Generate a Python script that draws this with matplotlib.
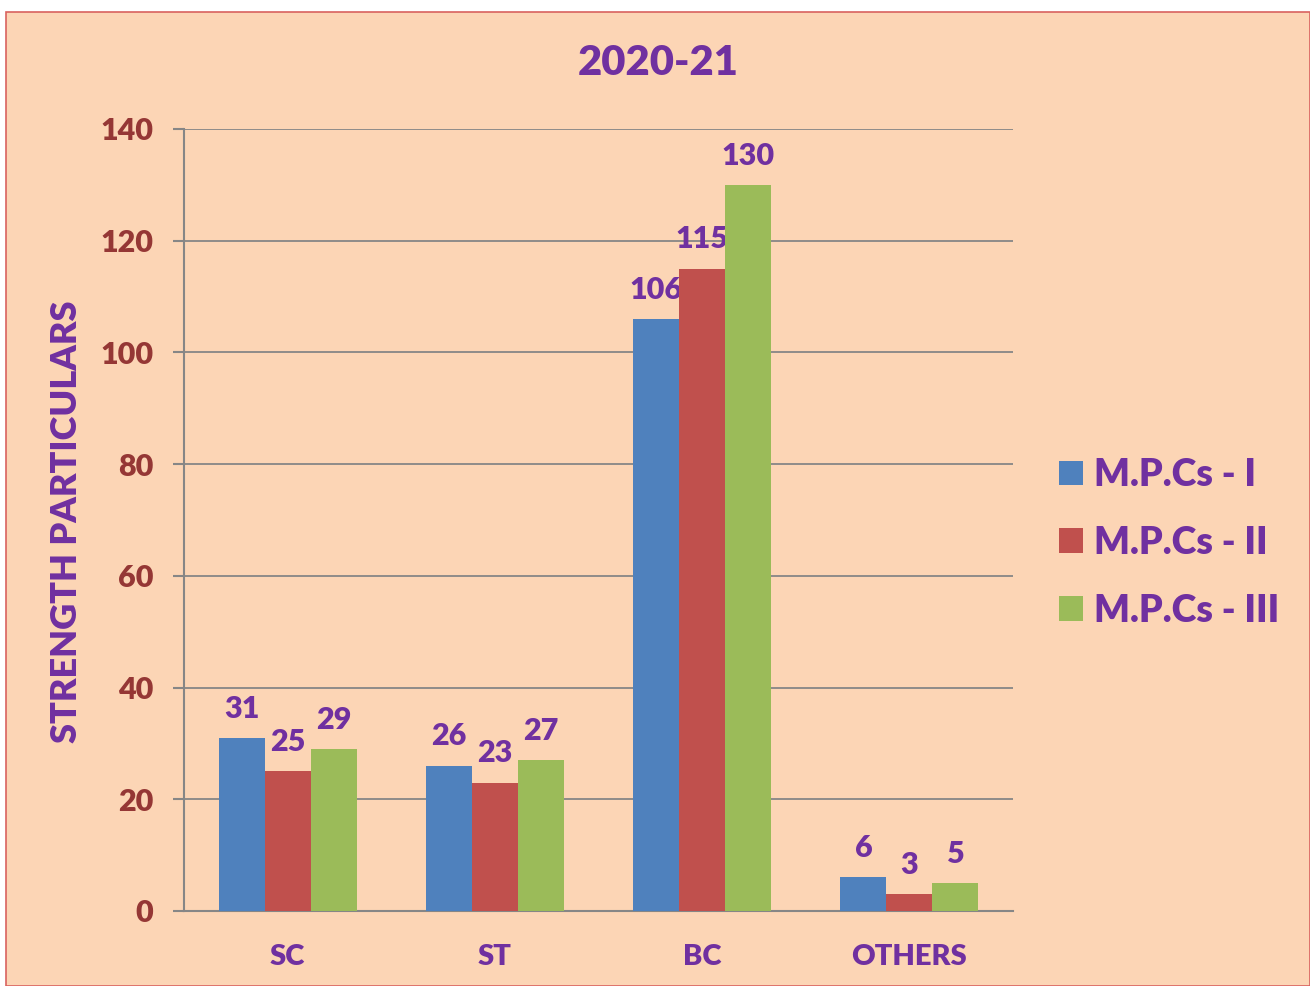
import numpy as np
import matplotlib
matplotlib.use('Agg')
import matplotlib.pyplot as plt
from matplotlib.patches import Rectangle

plt.rcParams['font.family'] = ['Lato', 'DejaVu Sans']
plt.rcParams['font.weight'] = 'bold'

# Data
categories = ['SC', 'ST', 'BC', 'OTHERS']
series_names = ['M.P.Cs - I', 'M.P.Cs - II', 'M.P.Cs - III']
mpcs_1 = [31, 26, 106, 6]
mpcs_2 = [25, 23, 115, 3]
mpcs_3 = [29, 27, 130, 5]
y_ticks = [0, 20, 40, 60, 80, 100, 120, 140]

colors = ['#4F81BD', '#C0504D', '#9BBB59']
purple = '#7030A0'
brown = '#953735'
grey = '#868686'
bg = '#FCD5B5'

W, H = 1310, 986
fig = plt.figure(figsize=(W / 100, H / 100), dpi=100, facecolor='white')
fig.patches.append(Rectangle((6 / W, 0), 1 - 6 / W, (H - 12) / H, transform=fig.transFigure,
                             facecolor=bg, edgecolor='#D9625F', linewidth=1.2, zorder=-1))

ax = fig.add_axes([184 / W, 1 - 911 / H, (1013 - 184) / W, (911 - 129) / H])
ax.set_facecolor(bg)

x = np.arange(len(categories))
width = 46 / 207.25
for i, (vals, name) in enumerate(zip([mpcs_1, mpcs_2, mpcs_3], series_names)):
    bars = ax.bar(x + (i - 1) * width, vals, width, color=colors[i], label=name, zorder=3)
    for b, v in zip(bars, vals):
        ax.annotate(str(v), (b.get_x() + b.get_width() / 2, v), xytext=(0, 11),
                    textcoords='offset points', ha='center', va='bottom',
                    color=purple, fontsize=22, fontweight='heavy')

ax.set_xlim(-0.5, len(categories) - 0.5)
ax.set_ylim(0, 140)
ax.set_yticks(y_ticks)
ax.set_xticks(x)
ax.set_xticklabels(categories, fontweight='heavy')
ax.set_yticklabels([str(t) for t in y_ticks], fontweight='heavy')
ax.tick_params(axis='y', colors=grey, length=8, width=1.5, labelcolor=brown, labelsize=22, pad=14)
ax.tick_params(axis='x', length=0, labelcolor=purple, labelsize=21, pad=24)
ax.yaxis.grid(True, color=grey, linewidth=1.3, zorder=0)
for s in ['top', 'right']:
    ax.spines[s].set_visible(False)
for s in ['left', 'bottom']:
    ax.spines[s].set_color(grey)
    ax.spines[s].set_linewidth(1.5)

fig.text(658 / W, 1 - 63 / H, '2020-21', ha='center', va='center',
         color=purple, fontsize=30, fontweight='heavy')
fig.text(67 / W, 1 - 522 / H, 'STRENGTH PARTICULARS', ha='center', va='center',
         rotation=90, color=purple, fontsize=26, fontweight='heavy')

leg = ax.legend(loc='center left', bbox_to_anchor=(1025 / W, 1 - 543 / H),
                bbox_transform=fig.transFigure, frameon=False,
                prop={'size': 27, 'weight': 'heavy'},
                handlelength=0.64, handleheight=0.64, handletextpad=0.3, labelspacing=0.9)
for t in leg.get_texts():
    t.set_color(purple)

fig.savefig('out.png', dpi=100, facecolor=fig.get_facecolor())
